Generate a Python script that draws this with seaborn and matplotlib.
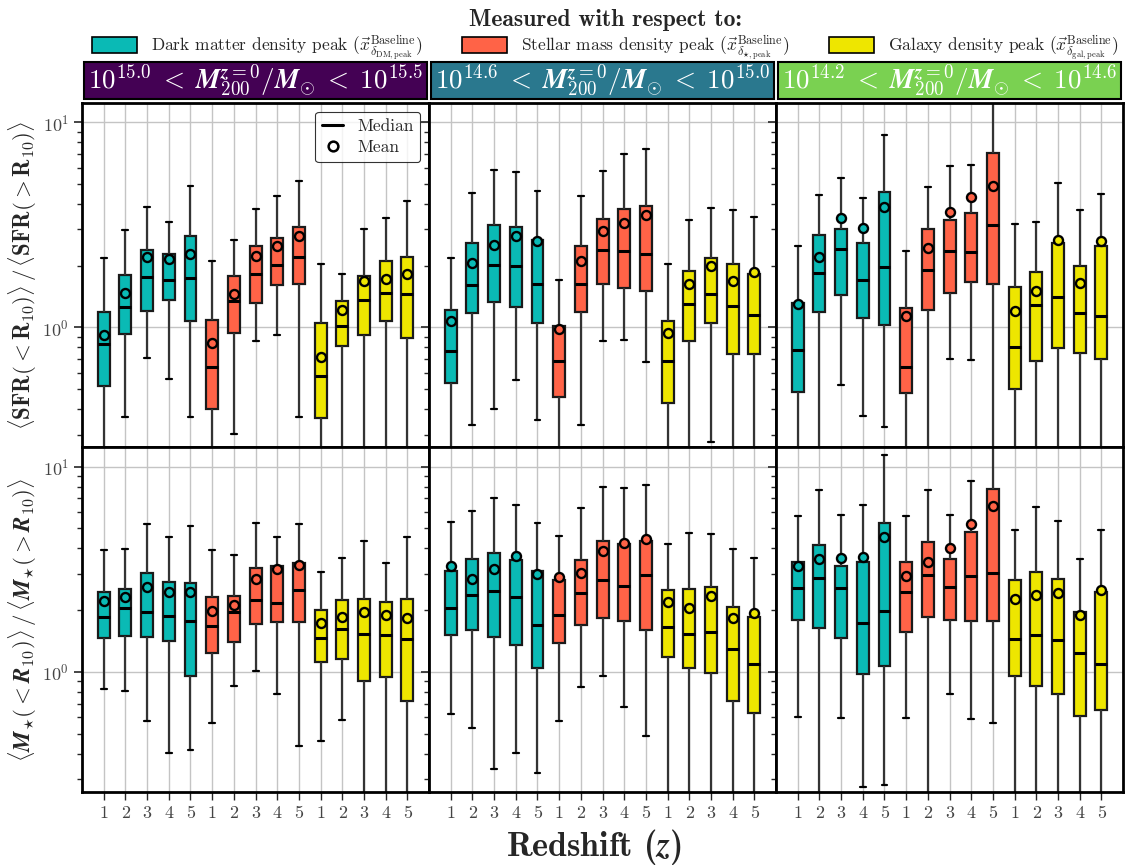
import numpy as np
import pandas as pd
import seaborn as sns
import matplotlib.pyplot as plt
from matplotlib.patches import Patch, Rectangle
from matplotlib.lines import Line2D
from matplotlib.ticker import LogLocator, NullFormatter

# peak definitions (hue groups), 5 redshifts each
GROUPS = ["DM", "Star", "Gal"]
GROUP_COLORS = {"DM": "#0ABAB5", "Star": "#FF6347", "Gal": "#EEE600"}
GROUP_LABELS = [
    r"Dark matter density peak ($\vec{x}^{\rm Baseline}_{\delta_{\rm DM,peak}}$)",
    r"Stellar mass density peak ($\vec{x}^{\rm Baseline}_{\delta_{\star,\rm peak}}$)",
    r"Galaxy density peak ($\vec{x}^{\rm Baseline}_{\delta_{\rm gal,peak}}$)",
]
REDSHIFTS = [1, 2, 3, 4, 5]

MASS_BINS = [
    r"$\mathbf{10^{15.0}}\;<\;\boldsymbol{M}_{\mathbf{200}}^{\boldsymbol{z}\mathbf{=0}}/\boldsymbol{M}_{\odot}\;<\;\mathbf{10^{15.5}}$",
    r"$\mathbf{10^{14.6}}\;<\;\boldsymbol{M}_{\mathbf{200}}^{\boldsymbol{z}\mathbf{=0}}/\boldsymbol{M}_{\odot}\;<\;\mathbf{10^{15.0}}$",
    r"$\mathbf{10^{14.2}}\;<\;\boldsymbol{M}_{\mathbf{200}}^{\boldsymbol{z}\mathbf{=0}}/\boldsymbol{M}_{\odot}\;<\;\mathbf{10^{14.6}}$",
]
BIN_COLORS = ["#440154", "#2A788E", "#7AD151"]

# SFR ratio: box statistics per mass bin (15 boxes = 3 peaks x 5 redshifts)
SFR_LO = [
    [0.2, 0.365, 0.707, 0.562, 0.366, 0.2, 0.303, 0.863, 0.913, 0.365, 0.2, 0.2, 0.2, 0.2, 0.2],
    [0.2, 0.336, 0.399, 0.552, 0.353, 0.2, 0.336, 0.854, 0.867, 0.681, 0.2, 0.2, 0.277, 0.2, 0.2],
    [0.2, 0.2, 0.526, 0.369, 0.327, 0.2, 0.2, 0.70, 0.694, 0.2, 0.2, 0.2, 0.2, 0.2, 0.2],
]
SFR_Q1 = [
    [0.518, 0.927, 1.20, 1.36, 1.07, 0.402, 0.938, 1.32, 1.61, 1.63, 0.362, 0.813, 0.921, 1.07, 0.889],
    [0.533, 1.18, 1.33, 1.25, 1.05, 0.456, 1.19, 1.62, 1.56, 1.50, 0.426, 0.854, 1.05, 0.743, 0.743],
    [0.487, 1.19, 1.44, 1.11, 1.03, 0.480, 1.22, 1.47, 1.66, 1.62, 0.500, 0.687, 0.795, 0.754, 0.70],
]
SFR_MED = [
    [0.83, 1.26, 1.75, 1.70, 1.74, 0.639, 1.34, 1.83, 2.01, 2.21, 0.582, 1.02, 1.36, 1.47, 1.46],
    [0.766, 1.61, 2.01, 2.00, 1.63, 0.689, 1.62, 2.39, 2.36, 2.27, 0.687, 1.30, 1.45, 1.27, 1.15],
    [0.774, 1.84, 2.42, 1.70, 1.96, 0.644, 1.91, 2.36, 2.33, 3.14, 0.798, 1.28, 1.40, 1.18, 1.14],
]
SFR_Q3 = [
    [1.19, 1.80, 2.39, 2.28, 2.78, 1.09, 1.77, 2.49, 2.74, 3.10, 1.05, 1.34, 1.78, 2.10, 2.19],
    [1.21, 2.57, 3.14, 3.10, 2.67, 1.02, 2.49, 3.37, 3.77, 3.92, 1.08, 1.89, 2.17, 2.03, 1.83],
    [1.31, 2.83, 3.03, 2.59, 4.57, 1.24, 3.00, 3.35, 3.59, 7.08, 1.58, 1.87, 2.57, 1.98, 2.48],
]
SFR_HI = [
    [2.18, 2.99, 3.87, 3.25, 4.89, 2.10, 2.66, 3.79, 4.37, 5.18, 2.03, 1.82, 3.00, 3.42, 4.13],
    [2.18, 4.54, 5.84, 5.71, 4.62, 1.71, 4.35, 5.77, 7.02, 7.43, 2.04, 3.35, 3.83, 3.73, 3.44],
    [2.50, 4.42, 5.36, 4.27, 8.67, 2.35, 4.82, 6.09, 6.18, 14.0, 3.19, 3.25, 5.04, 3.73, 4.44],
]
SFR_MEAN = [
    [0.917, 1.47, 2.21, 2.15, 2.28, 0.835, 1.45, 2.22, 2.50, 2.78, 0.716, 1.22, 1.69, 1.73, 1.83],
    [1.08, 2.06, 2.51, 2.79, 2.64, 0.985, 2.11, 2.96, 3.22, 3.53, 0.934, 1.62, 1.98, 1.69, 1.87],
    [1.30, 2.19, 3.42, 3.05, 3.85, 1.13, 2.44, 3.66, 4.34, 4.89, 1.20, 1.51, 2.65, 1.64, 2.64],
]

# stellar mass ratio
MST_LO = [
    [0.822, 0.809, 0.574, 0.401, 0.416, 0.565, 0.857, 1.01, 0.782, 0.437, 0.461, 0.582, 0.2, 0.2, 0.2],
    [0.626, 0.534, 0.337, 0.404, 0.321, 0.574, 0.847, 0.952, 0.675, 0.489, 0.2, 0.2, 0.2, 0.2, 0.2],
    [0.600, 0.2, 0.593, 0.274, 0.282, 0.593, 0.2, 0.779, 0.591, 0.565, 0.2, 0.2, 0.2, 0.2, 0.2],
]
MST_Q1 = [
    [1.46, 1.50, 1.48, 1.42, 0.952, 1.23, 1.40, 1.71, 1.76, 1.76, 1.12, 1.15, 0.906, 0.948, 0.722],
    [1.51, 1.60, 1.48, 1.35, 1.05, 1.39, 1.70, 1.84, 1.78, 1.60, 1.18, 1.05, 0.989, 0.722, 0.633],
    [1.79, 1.63, 1.46, 0.981, 1.07, 1.57, 1.85, 1.80, 1.77, 1.77, 0.956, 0.857, 0.782, 0.612, 0.652],
]
MST_MED = [
    [1.85, 2.04, 1.96, 1.88, 1.77, 1.68, 1.95, 2.24, 2.16, 2.51, 1.47, 1.61, 1.53, 1.51, 1.45],
    [2.04, 2.37, 2.48, 2.32, 1.70, 1.90, 2.41, 2.80, 2.61, 2.96, 1.65, 1.53, 1.57, 1.30, 1.09],
    [2.55, 2.87, 2.57, 1.74, 1.98, 2.45, 2.97, 2.59, 2.94, 3.04, 1.44, 1.52, 1.43, 1.23, 1.09],
]
MST_Q3 = [
    [2.46, 2.54, 3.02, 2.73, 2.71, 2.31, 2.34, 3.22, 3.27, 3.38, 2.01, 2.25, 2.27, 2.20, 2.27],
    [3.11, 3.54, 3.78, 3.50, 3.11, 2.79, 3.52, 4.34, 4.22, 4.35, 2.51, 2.54, 2.60, 2.07, 1.85],
    [3.44, 4.16, 3.28, 3.45, 5.32, 3.44, 4.30, 3.55, 4.78, 7.79, 2.80, 3.07, 2.84, 1.95, 2.44],
]
MST_HI = [
    [3.93, 3.95, 5.24, 4.55, 5.14, 3.93, 3.71, 5.34, 4.55, 5.26, 3.05, 3.60, 4.32, 3.40, 4.55],
    [5.38, 6.05, 7.01, 6.47, 5.30, 4.59, 6.26, 7.97, 7.88, 8.15, 4.21, 4.75, 4.71, 3.97, 3.60],
    [5.78, 7.70, 5.80, 6.47, 11.4, 5.78, 7.70, 5.80, 8.53, 14.0, 4.89, 6.38, 5.44, 3.56, 4.93],
]
MST_MEAN = [
    [2.21, 2.32, 2.59, 2.45, 2.45, 1.99, 2.11, 2.83, 3.16, 3.32, 1.74, 1.85, 1.96, 1.89, 1.84],
    [3.27, 2.84, 3.18, 3.67, 2.99, 2.89, 3.02, 3.90, 4.27, 4.45, 2.19, 2.04, 2.35, 1.84, 1.94],
    [3.29, 3.55, 3.58, 3.62, 4.55, 2.93, 3.43, 4.01, 5.26, 6.45, 2.26, 2.37, 2.41, 1.90, 2.52],
]

YLABELS = [
    r"$\langle\mathbf{SFR}(<\mathbf{R}_{\mathbf{10}})\rangle\,/\,\langle\mathbf{SFR}(>\mathbf{R}_{\mathbf{10}})\rangle$",
    r"$\langle\boldsymbol{M}_{\star}(<\boldsymbol{R}_{\mathbf{10}})\rangle\,/\,\langle\boldsymbol{M}_{\star}(>\boldsymbol{R}_{\mathbf{10}})\rangle$",
]
YLIM = (0.26, 12.4)
TICK_GRAY = "#444444"


def box_frame(lo, q1, med, q3, hi):
    # five points per box -> with whis=(0,100) the box shows exactly these stats
    rows = []
    for i in range(len(med)):
        g = GROUPS[i // 5]
        for v in (lo[i], q1[i], med[i], q3[i], hi[i]):
            rows.append({"pos": i, "group": g, "value": v})
    return pd.DataFrame(rows)


def mean_frame(mean):
    return pd.DataFrame({"pos": list(range(len(mean))),
                         "group": [GROUPS[i // 5] for i in range(len(mean))],
                         "value": mean})


def main():
    sns.set_style("ticks")
    plt.rcParams["font.family"] = ["cmr10", "DejaVu Serif"]
    plt.rcParams["mathtext.fontset"] = "cm"
    plt.rcParams["axes.formatter.use_mathtext"] = True

    fig = plt.figure(figsize=(11.27, 8.65), dpi=100)
    axes = fig.subplots(2, 3, sharex=True, sharey=True,
                        gridspec_kw=dict(wspace=0, hspace=0))
    fig.subplots_adjust(left=0.0728, right=0.9965, top=0.881, bottom=0.0844)

    rows = [
        (SFR_LO, SFR_Q1, SFR_MED, SFR_Q3, SFR_HI, SFR_MEAN),
        (MST_LO, MST_Q1, MST_MED, MST_Q3, MST_HI, MST_MEAN),
    ]

    for r, (lo, q1, med, q3, hi, mean) in enumerate(rows):
        for c in range(3):
            ax = axes[r, c]
            sns.boxplot(data=box_frame(lo[c], q1[c], med[c], q3[c], hi[c]),
                        x="pos", y="value", hue="group", hue_order=GROUPS,
                        palette=GROUP_COLORS, saturation=1, dodge=False,
                        whis=(0, 100), width=0.55, linewidth=1.6,
                        linecolor="#1a1a1a", showfliers=False, log_scale=True,
                        legend=False, ax=ax,
                        medianprops=dict(color="black", linewidth=2.2),
                        whiskerprops=dict(color="#333333", linewidth=1.6),
                        capprops=dict(color="black", linewidth=1.6))
            sns.stripplot(data=mean_frame(mean[c]), x="pos", y="value",
                          hue="group", hue_order=GROUPS, palette=GROUP_COLORS,
                          dodge=False, jitter=False, size=6.5, linewidth=1.7,
                          edgecolor="black", log_scale=True, legend=False,
                          ax=ax, zorder=4)

            ax.set_xlim(-1, 15)
            ax.set_ylim(*YLIM)
            ax.set_xlabel("")
            ax.set_ylabel("")
            ax.set_xticks(range(15))
            ax.set_xticklabels([str(z) for z in REDSHIFTS] * 3)
            ax.yaxis.set_major_locator(LogLocator(base=10, numticks=10))
            ax.yaxis.set_minor_locator(LogLocator(base=10, subs=np.arange(2, 10), numticks=10))
            ax.yaxis.set_minor_formatter(NullFormatter())
            ax.grid(True, which="major", color="#c4c4c4", linewidth=1.0)
            ax.set_axisbelow(True)
            for sp in ax.spines.values():
                sp.set_linewidth(2)
                sp.set_color("black")

            ax.tick_params(axis="y", which="major", direction="out", length=6,
                           width=1.2, labelsize=13, labelcolor=TICK_GRAY,
                           labelleft=(c == 0))
            ax.tick_params(axis="y", which="minor", direction="out", length=3.5,
                           width=1.0)
            if r == 0:
                ax.tick_params(axis="x", which="both", length=0, labelbottom=False)
            else:
                ax.tick_params(axis="x", direction="out", length=6, width=1.0,
                               labelsize=13, labelcolor=TICK_GRAY, labelbottom=True)

            if r == 0:
                ax.add_patch(Rectangle((0.006, 1.012), 0.988, 0.108,
                                       transform=ax.transAxes, clip_on=False,
                                       facecolor=BIN_COLORS[c], edgecolor="black",
                                       linewidth=1.5))
                ax.text(0.5, 1.064, MASS_BINS[c], transform=ax.transAxes,
                        ha="center", va="center", color="white", fontsize=19.5)

        axes[r, 0].set_ylabel(YLABELS[r], fontsize=16.5, labelpad=2)

    # median / mean key
    key = [Line2D([], [], color="black", linewidth=2.2),
           Line2D([], [], linestyle="none", marker="o", markersize=7,
                  markerfacecolor="white", markeredgecolor="black",
                  markeredgewidth=1.8)]
    leg = axes[0, 0].legend(key, ["Median", "Mean"], loc="upper right",
                            fontsize=12.5, handlelength=1.2, frameon=True,
                            fancybox=True, borderpad=0.4, labelspacing=0.35)
    leg.get_frame().set_edgecolor("black")
    leg.get_frame().set_linewidth(0.8)

    handles = [Patch(facecolor=GROUP_COLORS[g], edgecolor="black", linewidth=1.2)
               for g in GROUPS]
    fig.legend(handles, GROUP_LABELS, loc="upper center",
               bbox_to_anchor=(0.537, 1.0), ncol=3, frameon=False,
               fontsize=12.5, handlelength=2.6, handleheight=1.0,
               columnspacing=2.3, borderaxespad=0.3, borderpad=0.2,
               labelspacing=0.15,
               title="Measured with respect to:",
               title_fontproperties={"family": "cmb10", "size": 17})

    fig.text(0.527, -0.002, r"Redshift ($\boldsymbol{z}$)", ha="center",
             va="bottom", fontsize=24.5, family="cmb10")

    fig.savefig("out.png", dpi=100)


if __name__ == "__main__":
    main()
